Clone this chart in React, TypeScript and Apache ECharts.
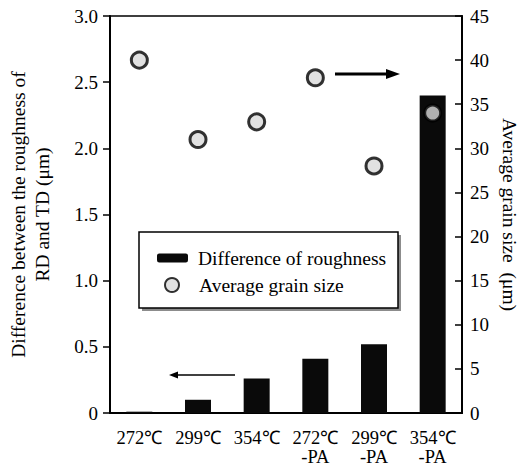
import React, { useEffect, useRef } from "react";
import * as echarts from "echarts";

const categories = ["272℃", "299℃", "354℃", "272℃\n-PA", "299℃\n-PA", "354℃\n-PA"];
const roughnessDiff = [0.01, 0.1, 0.26, 0.41, 0.52, 2.4];
const grainSize = [40, 31, 33, 38, 28, 34];
const leftTicks = { min: 0, max: 3, interval: 0.5 };
const rightTicks = { min: 0, max: 45, interval: 5 };

const FONT = "Liberation Serif";

export default function App() {
  const ref = useRef<HTMLDivElement>(null);
  useEffect(() => {
    if (!ref.current) return;
    const chart = echarts.init(ref.current, null, { renderer: "svg" });
    chart.setOption({
      animation: false,
      backgroundColor: "#fff",
      textStyle: { fontFamily: FONT, color: "#000" },
      grid: {
        left: 110,
        right: 64,
        top: 16,
        bottom: 56,
        show: true,
        borderColor: "#000",
        borderWidth: 1.5,
        backgroundColor: "transparent",
        outerBoundsMode: "none",
      },
      legend: [
        {
          data: ["Difference of roughness"],
          orient: "vertical",
          left: 157,
          top: 248,
          padding: 0,
          itemWidth: 31,
          itemHeight: 9,
          z: 10,
          textStyle: { fontFamily: FONT, fontSize: 19.5, color: "#000", padding: [0, 0, 0, 5] },
        },
        {
          data: ["Average grain size"],
          orient: "vertical",
          left: 164,
          top: 275,
          padding: 0,
          itemWidth: 14,
          itemHeight: 14,
          z: 10,
          textStyle: { fontFamily: FONT, fontSize: 19.5, color: "#000", padding: [0, 0, 0, 15] },
        },
      ],
      xAxis: {
        type: "category",
        data: categories,
        boundaryGap: true,
        axisLine: { lineStyle: { color: "#000", width: 2 } },
        axisTick: { inside: true, length: 7, lineStyle: { color: "#000", width: 1.5 } },
        axisLabel: {
          interval: 0,
          fontFamily: FONT,
          fontSize: 18.5,
          color: "#000",
          margin: 15,
          lineHeight: 19.5,
          hideOverlap: false,
        },
        splitLine: { show: false },
      },
      yAxis: [
        {
          type: "value",
          min: leftTicks.min,
          max: leftTicks.max,
          interval: leftTicks.interval,
          name: "Difference between the roughness of\nRD and TD (μm)",
          nameLocation: "middle",
          nameRotate: 90,
          nameGap: 56,
          nameTextStyle: { fontFamily: FONT, fontSize: 19.5, color: "#000", lineHeight: 24 },
          axisLine: { show: true, lineStyle: { color: "#000", width: 2 } },
          axisTick: { show: true, inside: false, length: 7, lineStyle: { color: "#000", width: 1.5 } },
          axisLabel: {
            fontFamily: FONT,
            fontSize: 19,
            color: "#000",
            margin: 12,
            formatter: (v: number) => (v === 0 ? "0" : v.toFixed(1)),
          },
          splitLine: { show: false },
        },
        {
          type: "value",
          min: rightTicks.min,
          max: rightTicks.max,
          interval: rightTicks.interval,
          position: "right",
          name: "Average grain size  (μm)",
          nameLocation: "middle",
          nameRotate: -90,
          nameGap: 32,
          nameTextStyle: { fontFamily: FONT, fontSize: 19.5, color: "#000" },
          axisLine: { show: true, lineStyle: { color: "#000", width: 2 } },
          axisTick: { show: true, inside: true, length: 7, lineStyle: { color: "#000", width: 1.5 } },
          axisLabel: { fontFamily: FONT, fontSize: 19, color: "#000", margin: 8 },
          splitLine: { show: false },
        },
      ],
      series: [
        {
          name: "Difference of roughness",
          type: "bar",
          yAxisIndex: 0,
          data: roughnessDiff,
          barWidth: 26,
          itemStyle: { color: "#0a0a0a" },
        },
        {
          name: "Average grain size",
          type: "scatter",
          yAxisIndex: 1,
          data: grainSize,
          symbol: "circle",
          symbolSize: 16,
          itemStyle: { color: "#d9d9d9", borderColor: "#000", borderWidth: 3 },
          z: 3,
        },
      ],
      graphic: [
        {
          type: "rect",
          z: 5,
          shape: { x: 142, y: 235, width: 259, height: 76 },
          style: { fill: "#8c8c8c" },
        },
        {
          type: "rect",
          z: 6,
          shape: { x: 139, y: 232, width: 259, height: 76 },
          style: { fill: "#fff", stroke: "#000", lineWidth: 1.5 },
        },
        {
          type: "line",
          z: 6,
          shape: { x1: 335, y1: 74, x2: 390, y2: 74 },
          style: { stroke: "#000", lineWidth: 3 },
        },
        {
          type: "polygon",
          z: 6,
          shape: { points: [[386, 69], [400, 74], [386, 79]] },
          style: { fill: "#000" },
        },
        {
          type: "line",
          z: 6,
          shape: { x1: 235, y1: 375, x2: 176, y2: 375 },
          style: { stroke: "#000", lineWidth: 1.6 },
        },
        {
          type: "polygon",
          z: 6,
          shape: { points: [[178, 371.5], [169, 375], [178, 378.5]] },
          style: { fill: "#000" },
        },
      ],
    });
    return () => chart.dispose();
  }, []);
  return <div ref={ref} style={{ width: 526, height: 469, position: "absolute", left: 0, top: 0 }} />;
}
